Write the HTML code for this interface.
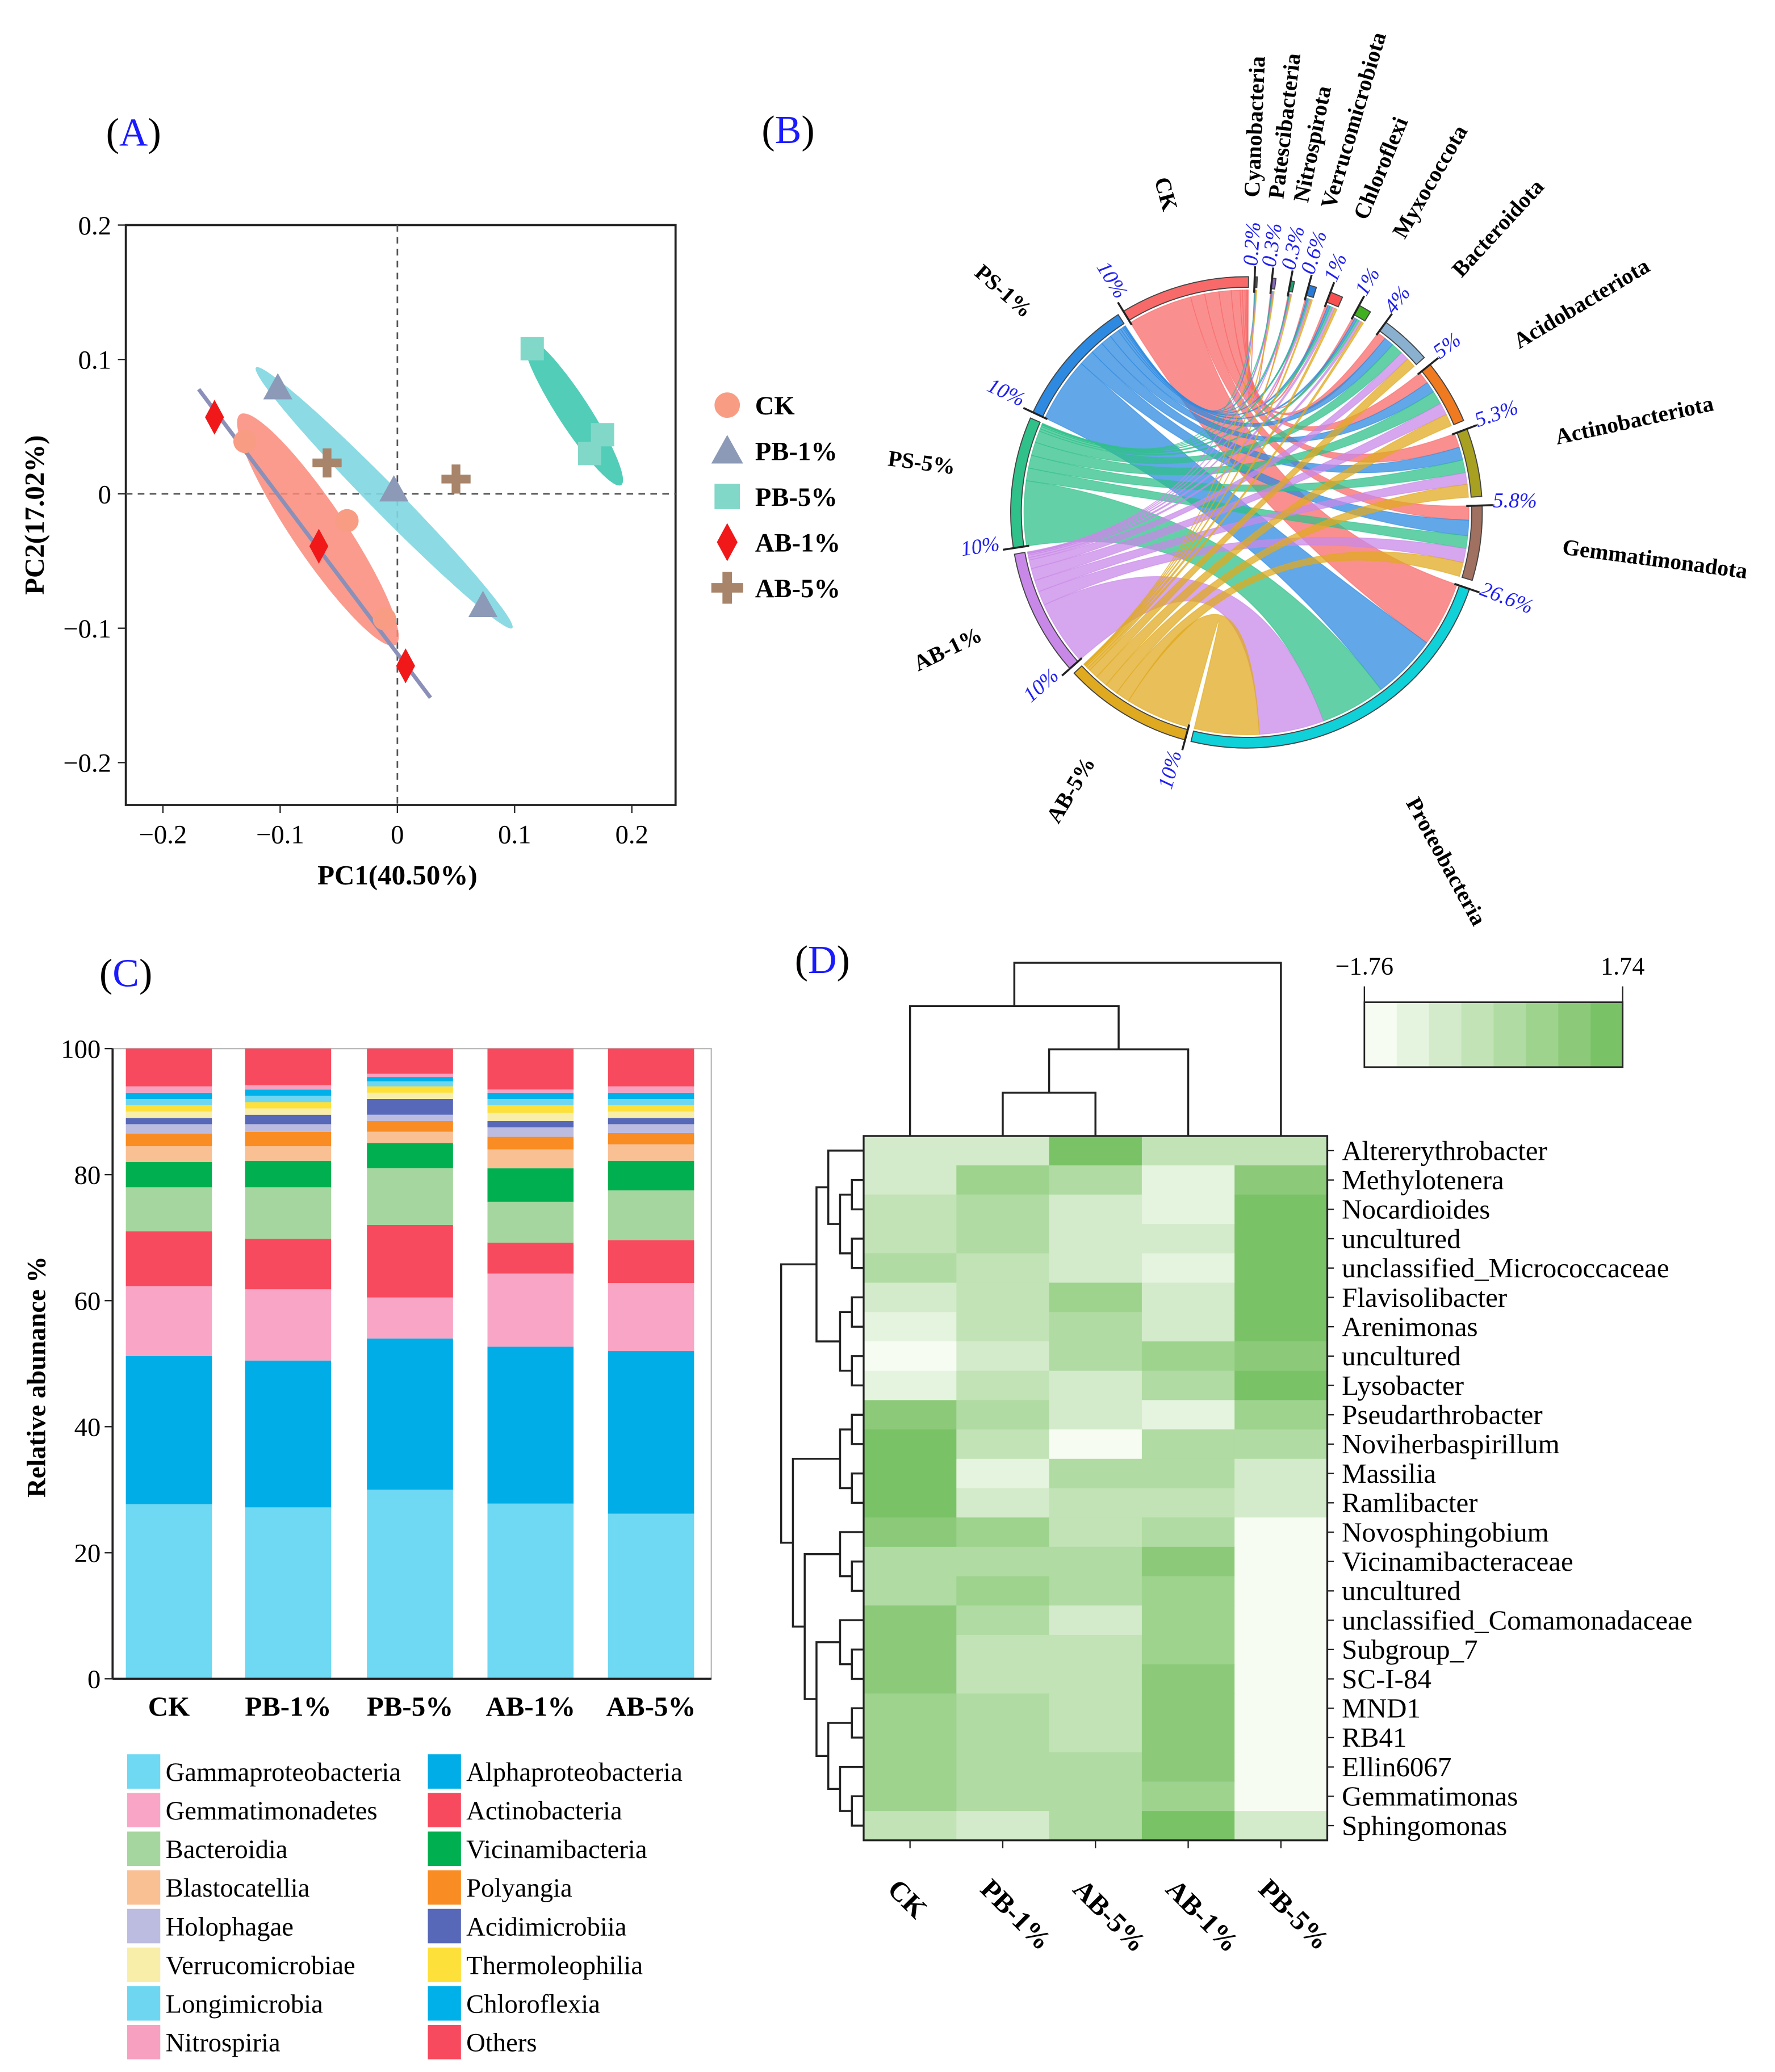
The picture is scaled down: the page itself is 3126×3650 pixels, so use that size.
<!DOCTYPE html>
<html><head><meta charset="utf-8"><style>
html,body{margin:0;padding:0;background:#fff;}
svg{display:block;}
text{font-family:"Liberation Serif",serif;}
</style></head><body>
<svg id="fig" xmlns="http://www.w3.org/2000/svg" width="3126" height="3650" viewBox="0 0 1340 1565" preserveAspectRatio="none">
<g id="pA"></g>
<g id="pB"></g>
<g id="pC"></g>
<g id="pD"></g>
</svg>
<script>
// ---------- Panel A data ----------
const pcaGroups=["CK","PB-1%","PB-5%","AB-1%","AB-5%"];
const pcaX=[[-0.13,-0.043,-0.011],[-0.102,-0.003,0.073],[0.115,0.175,0.164],[-0.156,-0.067,0.007],[-0.06,0.05]];
const pcaY=[[0.039,-0.02,-0.093],[0.079,0.003,-0.083],[0.108,0.044,0.03],[0.057,-0.039,-0.128],[0.023,0.011]];
const pcaTicks=[-0.2,-0.1,0,0.1,0.2];
// ---------- Panel B data ----------
const chordSamples=["CK","PS-1%","PS-5%","AB-1%","AB-5%"];
const chordPhyla=["Cyanobacteria","Patescibacteria","Nitrospirota","Verrucomicrobiota","Chloroflexi","Myxococcota","Bacteroidota","Acidobacteriota","Actinobacteriota","Gemmatimonadota","Proteobacteria"];
const chordPhylaPct=[0.2,0.3,0.3,0.6,1,1,4,5,5.3,5.8,26.6];
const chordPhylaLabel=["0.2%","0.3%","0.3%","0.6%","1%","1%","4%","5%","5.3%","5.8%","26.6%"];
const chordShare=[[0.2,0.2,0.2,0.2,0.2],[0.2,0.2,0.2,0.2,0.2],[0.2,0.2,0.2,0.2,0.2],[0.2,0.2,0.2,0.2,0.2],[0.2,0.2,0.2,0.2,0.2],[0.2,0.2,0.2,0.2,0.2],[0.18,0.2,0.24,0.18,0.2],[0.2,0.18,0.22,0.2,0.2],[0.22,0.2,0.2,0.18,0.2],[0.2,0.22,0.18,0.2,0.2],[0.2,0.2,0.2,0.2,0.2]];
// ---------- Panel C data ----------
const barCats=["CK","PB-1%","PB-5%","AB-1%","AB-5%"];
const taxa=["Gammaproteobacteria","Alphaproteobacteria","Gemmatimonadetes","Actinobacteria","Bacteroidia","Vicinamibacteria","Blastocatellia","Polyangia","Holophagae","Acidimicrobiia","Verrucomicrobiae","Thermoleophilia","Longimicrobia","Chloroflexia","Nitrospiria","Others"];
const cumCK=[27.7,51.2,62.3,71,78,82,84.5,86.5,88,89,90,91,92,93,94,100];
const cumPB1=[27.2,50.5,61.8,69.8,78,82.2,84.5,86.8,88,89.5,90.5,91.5,92.5,93.5,94.2,100];
const cumPB5=[30,54,60.5,72,81,85,86.8,88.5,89.5,92,93,94,94.8,95.5,96,100];
const cumAB1=[27.8,52.7,64.3,69.2,75.7,81,84,86,87.5,88.5,89.8,91,92,93,93.5,100];
const cumAB5=[26.2,52,62.8,69.6,77.5,82.2,84.8,86.6,88,89,90,91,92,93,94,100];
const yTicksC=[0,20,40,60,80,100];
// ---------- Panel D data ----------
const hmCols=["CK","PB-1%","AB-5%","AB-1%","PB-5%"];
const hmRows=["Altererythrobacter","Methylotenera","Nocardioides","uncultured","unclassified_Micrococcaceae","Flavisolibacter","Arenimonas","uncultured","Lysobacter","Pseudarthrobacter","Noviherbaspirillum","Massilia","Ramlibacter","Novosphingobium","Vicinamibacteraceae","uncultured","unclassified_Comamonadaceae","Subgroup_7","SC-I-84","MND1","RB41","Ellin6067","Gemmatimonas","Sphingomonas"];
const hmVals=[[2,2,7,3,3],[2,5,4,1,6],[3,4,2,1,7],[3,4,2,2,7],[4,3,2,1,7],[2,3,5,2,7],[1,3,4,2,7],[0,2,4,5,6],[1,3,2,4,7],[6,4,2,1,5],[7,3,0,4,4],[7,1,4,4,2],[7,2,3,3,2],[6,5,3,4,0],[4,4,4,6,0],[4,5,4,5,0],[6,4,2,5,0],[6,3,3,5,0],[6,3,3,6,0],[5,4,3,6,0],[5,4,3,6,0],[5,4,4,6,0],[5,4,4,5,0],[3,2,4,7,2]];

const NS="http://www.w3.org/2000/svg";
function mk(parent,tag,attrs,txt){const e=document.createElementNS(NS,tag);for(const k in attrs)e.setAttribute(k,attrs[k]);if(txt!==undefined)e.textContent=txt;parent.appendChild(e);return e;}

function panelLabel(x,y,L){const t=mk(document.getElementById('fig'),'text',{x:x,y:y,'font-size':30});


mk(t,'tspan',{},'(');mk(t,'tspan',{fill:'#1a1aff'},L);mk(t,'tspan',{},')');}
panelLabel(80,110,'A');panelLabel(575,108,'B');panelLabel(75,745,'C');panelLabel(600,735,'D');

// ===== Panel A =====
(function(){
const g=document.getElementById('pA');
const X=v=>300+v*885, Y=v=>373-v*1015;
const frame=mk(g,'rect',{x:95,y:170,width:415,height:438,fill:'none',stroke:'#222','stroke-width':1.6});


mk(g,'line',{x1:X(0),y1:170,x2:X(0),y2:608,stroke:'#555','stroke-dasharray':'5,4','stroke-width':1.2});
mk(g,'line',{x1:95,y1:Y(0),x2:510,y2:Y(0),stroke:'#555','stroke-dasharray':'5,4','stroke-width':1.2});
pcaTicks.forEach(t=>{
 mk(g,'line',{x1:X(t),y1:608,x2:X(t),y2:614,stroke:'#222'});
 const tl=mk(g,'text',{x:X(t),y:637,'font-size':20,'text-anchor':'middle'},t===0?'0':(t<0?'\u2212':'')+Math.abs(t));
 
 
 mk(g,'line',{x1:89,y1:Y(t),x2:95,y2:Y(t),stroke:'#222'});
 const yl=mk(g,'text',{x:84,y:Y(t)+7,'font-size':20,'text-anchor':'end'},t===0?'0':(t<0?'\u2212':'')+Math.abs(t));
 
 
});
const xt=mk(g,'text',{x:300,y:668,'font-size':21,'font-weight':'bold','text-anchor':'middle'},'PC1(40.50%)');

const yt=mk(g,'text',{x:0,y:0,'font-size':21,'font-weight':'bold','text-anchor':'middle',transform:'translate(33,389) rotate(-90)'},'PC2(17.02%)');

const ells=[[240,400,105,20,56,'#f98a7a',0.85],[290,376,138,11,45.5,'#7fd6e0',0.9],[433,311,66,12,57,'#3ec8b0',0.9]];
ells.forEach((e,i)=>{const el=mk(g,'ellipse',{cx:e[0],cy:e[1],rx:e[2],ry:e[3],fill:e[5],opacity:e[6],transform:`rotate(${e[4]} ${e[0]} ${e[1]})`});
});
mk(g,'line',{x1:150,y1:294,x2:325,y2:527,stroke:'#8a90b8','stroke-width':3});
const cols=['#f99c84','#8c9ab8','#82d8c8','#f01818','#a8846a'];
function marker(p,k,x,y,s){
 if(k===0)return mk(p,'circle',{cx:x,cy:y,r:s*0.8,fill:cols[0]});
 if(k===1)return mk(p,'polygon',{points:`${x},${y-s} ${x-s},${y+s*0.8} ${x+s},${y+s*0.8}`,fill:cols[1]});
 if(k===2)return mk(p,'rect',{x:x-s*0.8,y:y-s*0.8,width:s*1.6,height:s*1.6,fill:cols[2]});
 if(k===3)return mk(p,'polygon',{points:`${x},${y-s*1.2} ${x+s*0.65},${y} ${x},${y+s*1.2} ${x-s*0.65},${y}`,fill:cols[3]});
 return mk(p,'path',{d:`M${x-s*0.3},${y-s}h${s*0.6}v${s*0.7}h${s*0.7}v${s*0.6}h${-s*0.7}v${s*0.7}h${-s*0.6}v${-s*0.7}h${-s*0.7}v${-s*0.6}h${s*0.7}z`,fill:cols[4]});
}
pcaGroups.forEach((gname,k)=>{pcaX[k].forEach((v,i)=>{const m=marker(g,k,X(v),Y(pcaY[k][i]),11);

});
 const lm=marker(g,k,549,306+k*34.5,12);
 
 const lt=mk(g,'text',{x:570,y:313+k*34.5,'font-size':20,'font-weight':'bold'},gname);
 
});
})();

// ===== Panel B =====
(function(){
const g=document.getElementById('pB');
const cx=941,cy=387,R0=170,R1=178;
const cols={"CK":"#f86a6a","PS-1%":"#2e8ae0","PS-5%":"#30c08a","AB-1%":"#c888e8","AB-5%":"#e0aa20"};
const pcols=["#555","#8868c0","#20a070","#2a7ad8","#f85050","#40b020","#8ab0d0","#f07a20","#a8a020","#a07060","#10d0d8"];
const M=chordPhyla.map((p,j)=>chordSamples.map((s,i)=>chordPhylaPct[j]*chordShare[j][i]));
const sampTot=chordSamples.map((s,i)=>M.reduce((a,r)=>a+r[i],0));
const gapsP=[3.6,3.6,3.6,3.6,4.5,4.5,2.2,2.2,2.2,2.2,1.5];
const gapS=1.5;
const sumGaps=gapsP.reduce((a,b)=>a+b,0)+5*gapS;
const total=chordPhylaPct.reduce((a,b)=>a+b,0)+sampTot.reduce((a,b)=>a+b,0);
const sc=(360-sumGaps)/total;
const P=(a,r)=>[cx+r*Math.sin(a*Math.PI/180),cy-r*Math.cos(a*Math.PI/180)];
function arcPath(a0,a1,r0,r1){const p0=P(a0,r1),p1=P(a1,r1),p2=P(a1,r0),p3=P(a0,r0);const l=(a1-a0)>180?1:0;
return `M${p0}A${r1},${r1} 0 ${l} 1 ${p1}L${p2}A${r0},${r0} 0 ${l} 0 ${p3}Z`;}
let a=2;const phyArc=[];
chordPhylaPct.forEach((v,j)=>{phyArc.push([a,a+v*sc]);a+=v*sc+gapsP[j];});
const sOrder=[4,3,2,1,0];const sA=[];
sOrder.forEach(i=>{sA[i]=[a,a+sampTot[i]*sc];a+=sampTot[i]*sc+gapS;});
const phyCursor=phyArc.map(x=>x[0]);
const ribG=mk(g,'g',{});
chordSamples.forEach((s,i)=>{
 let c=sA[i][0];
 for(let j=chordPhyla.length-1;j>=0;j--){
  const w=M[j][i]*sc;const s0=c,s1=c+w;c=s1;
  const p0=phyCursor[j],p1=p0+w;phyCursor[j]=p1;
  const A=P(s0,R0-2),B=P(s1,R0-2),C=P(p0,R0-2),D=P(p1,R0-2);
  const d=`M${A}A${R0},${R0} 0 0 1 ${B}Q${cx},${cy} ${C}A${R0},${R0} 0 0 1 ${D}Q${cx},${cy} ${A}Z`;
  const r=mk(ribG,'path',{d:d,fill:cols[s],'fill-opacity':0.75,stroke:cols[s],'stroke-opacity':0.6,'stroke-width':0.6});
  
 }
});
function seg(a0,a1,col,name){const e=mk(g,'path',{d:arcPath(a0,a1,R0,R1),fill:col,stroke:'#444','stroke-width':0.8});

mk(g,'line',{x1:P(a0,R0-4)[0],y1:P(a0,R0-4)[1],x2:P(a0,R1+8)[0],y2:P(a0,R1+8)[1],stroke:'#222','stroke-width':1.5});}
chordPhyla.forEach((p,j)=>{seg(phyArc[j][0],phyArc[j][1],pcols[j],'phylum-arc');
 const am=(phyArc[j][0]+phyArc[j][1])/2;
 const rr=j<6?238:(j<10?240:250);
 const q=P(am,rr);
 const lt=mk(g,'text',{x:q[0],y:q[1],'font-size':17,'font-weight':'bold',transform:`rotate(${am-90} ${q[0]} ${q[1]})`},p);
 
 const pq=P(phyArc[j][0]+0.5,186);
 const pl=mk(g,'text',{x:pq[0],y:pq[1],'font-size':16,'font-style':'italic',fill:'#2020ee',transform:`rotate(${phyArc[j][0]-90+2} ${pq[0]} ${pq[1]})`},chordPhylaLabel[j]);
 
});
chordSamples.forEach((s,i)=>{seg(sA[i][0],sA[i][1],cols[s],'sample-arc');
 const am=(sA[i][0]+sA[i][1])/2;const q=P(am,248);
 const lt=mk(g,'text',{x:q[0],y:q[1],'font-size':17,'font-weight':'bold','text-anchor':'middle',transform:`rotate(${am+90} ${q[0]} ${q[1]})`},s);
 
 const pq=P(sA[i][0],188);
 const pl=mk(g,'text',{x:pq[0],y:pq[1],'font-size':16,'font-style':'italic',fill:'#2020ee','text-anchor':'end',transform:`rotate(${sA[i][0]+90} ${pq[0]} ${pq[1]})`},'10%');
 
});
})();

// ===== Panel C =====
(function(){
const g=document.getElementById('pC');
const Y=v=>1268-v*4.76;const x0=[95,185,277,368,459],bw=65;
const tcol=["#6fd8f2","#00ade6","#f9a6c6","#f84a5e","#a6d6a0","#00b050","#f9c094","#f98c22","#bcbce0","#5868b8","#f8eeaa","#fde03a","#6fd6f2","#00b0e8","#f8a0c0","#f84a5e"];
const cums=[cumCK,cumPB1,cumPB5,cumAB1,cumAB5];
const fr=mk(g,'rect',{x:85,y:792,width:452,height:476,fill:'none',stroke:'#bbb','stroke-width':1});

cums.forEach((cum,b)=>{let prev=0;cum.forEach((v,k)=>{
 const r=mk(g,'rect',{x:x0[b],y:Y(v),width:bw,height:Y(prev)-Y(v),fill:tcol[k]});
 prev=v;});
 const xl=mk(g,'text',{x:x0[b]+bw/2,y:1296,'font-size':21,'font-weight':'bold','text-anchor':'middle'},barCats[b]);
 
});
mk(g,'line',{x1:85,y1:792,x2:85,y2:1268,stroke:'#222','stroke-width':1.6});
mk(g,'line',{x1:85,y1:1268,x2:537,y2:1268,stroke:'#222','stroke-width':1.6});
yTicksC.forEach(t=>{mk(g,'line',{x1:79,y1:Y(t),x2:85,y2:Y(t),stroke:'#222'});
 const l=mk(g,'text',{x:76,y:Y(t)+7,'font-size':20,'text-anchor':'end'},t);
 });
const yt=mk(g,'text',{x:0,y:0,'font-size':20,'font-weight':'bold','text-anchor':'middle',transform:'translate(34,1040) rotate(-90)'},'Relative abunance %');

const names=["Gammaproteobacteria","Alphaproteobacteria","Gemmatimonadetes","Actinobacteria","Bacteroidia","Vicinamibacteria","Blastocatellia","Polyangia","Holophagae","Acidimicrobiia","Verrucomicrobiae","Thermoleophilia","Longimicrobia","Chloroflexia","Nitrospiria","Others"];
names.forEach((n,k)=>{const col=k%2,row=Math.floor(k/2);const x=col?323:96,y=1325+row*29.2;
 const s=mk(g,'rect',{x:x,y:y,width:25,height:26,fill:tcol[k]});
 
 const t=mk(g,'text',{x:x+29,y:y+20,'font-size':20},n);
 });
})();

// ===== Panel D =====
(function(){
const g=document.getElementById('pD');
const x0=652,y0=858,cw=70,rh=(1390-858)/24;
const c0=[247,252,242],c1=[122,194,102];
const col=v=>{const t=v/7;return `rgb(${c0.map((c,i)=>Math.round(c+(c1[i]-c)*t)).join(',')})`;};
hmVals.forEach((row,i)=>row.forEach((v,j)=>{const r=mk(g,'rect',{x:x0+j*cw,y:y0+i*rh,width:cw+0.5,height:rh+0.5,fill:col(v)});
 }));
mk(g,'rect',{x:x0,y:y0,width:5*cw,height:24*rh,fill:'none',stroke:'#222','stroke-width':1.4});
hmRows.forEach((n,i)=>{const y=y0+(i+0.5)*rh;mk(g,'line',{x1:x0+5*cw,y1:y,x2:x0+5*cw+5,y2:y,stroke:'#222'});
 const t=mk(g,'text',{x:1013,y:y+7,'font-size':21},n);});
hmCols.forEach((n,j)=>{const x=x0+(j+0.5)*cw;mk(g,'line',{x1:x,y1:1390,x2:x,y2:1396,stroke:'#222'});
 const t=mk(g,'text',{x:x-18,y:1428,'font-size':21,'font-weight':'bold',transform:`rotate(45 ${x-18} 1428)`},n);
 });
for(let k=0;k<8;k++){const r=mk(g,'rect',{x:1030+k*24.4,y:757,width:24.6,height:49,fill:col(k)});
 }
mk(g,'rect',{x:1030,y:757,width:195,height:49,fill:'none',stroke:'#222','stroke-width':1.2});
mk(g,'line',{x1:1030,y1:745,x2:1030,y2:757,stroke:'#222'});mk(g,'line',{x1:1225,y1:745,x2:1225,y2:757,stroke:'#222'});
const l1=mk(g,'text',{x:1030,y:736,'font-size':19,'text-anchor':'middle'},'\u22121.76');
const l2=mk(g,'text',{x:1225,y:736,'font-size':19,'text-anchor':'middle'},'1.74');
function depth(t){return Array.isArray(t)?1+Math.max(depth(t[0]),depth(t[1])):0;}
function draw(t,pos,base,scl,horiz){
 if(!Array.isArray(t))return {p:pos(t),h:base};
 const a=draw(t[0],pos,base,scl,horiz),b=draw(t[1],pos,base,scl,horiz);
 const h=base-depth(t)*scl;
 const d=horiz?`M${a.h},${a.p}H${h}V${b.p}H${b.h}`:`M${a.p},${a.h}V${h}H${b.p}V${b.h}`;
 const e=mk(g,'path',{d:d,fill:'none',stroke:'#222','stroke-width':1.5});
 
 return {p:(a.p+b.p)/2,h:h};
}
draw([[0,[[1,2],3]],4],j=>x0+(j+0.5)*cw,858,32.7,false);
const T1=[[0,[[1,2],[3,4]]],[[5,6],[7,8]]];
const T2=[[[9,10],[11,12]],[[13,[14,15]],[[16,[17,18]],[[19,20],[21,[22,23]]]]]];
draw([T1,T2],i=>y0+(i+0.5)*rh,652,8.9,true);
})();
</script>
</body></html>
